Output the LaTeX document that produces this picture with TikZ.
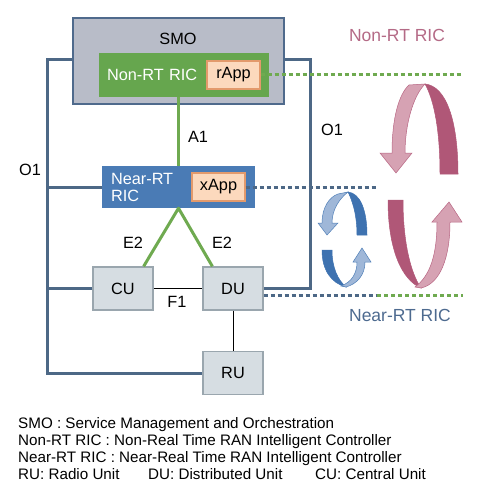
\documentclass[tikz,border=0pt]{standalone}
\usepackage{fontspec}
\setmainfont{Liberation Sans}
\usepackage{xcolor}
\usepackage{tikz}

\definecolor{smofill}{HTML}{B8BCC8}
\definecolor{smoedge}{HTML}{4F6A8C}
\definecolor{o1blue}{HTML}{4D6886}
\definecolor{linkgreen}{HTML}{6FAA50}
\definecolor{nonrtgreen}{HTML}{66A64E}
\definecolor{nearblue}{HTML}{4A7BB5}
\definecolor{appfill}{HTML}{FCD9BD}
\definecolor{appedge}{HTML}{E39A6C}
\definecolor{unitfill}{HTML}{D6DDE2}
\definecolor{unitedge}{HTML}{9AA6AE}
\definecolor{loopred}{HTML}{B46A86}
\definecolor{looptext}{HTML}{4D6A8F}
\definecolor{pinkdark}{HTML}{B05777}
\definecolor{pinklight}{HTML}{D6A2B3}
\definecolor{bluedark}{HTML}{3E72B0}
\definecolor{bluelight}{HTML}{9FB7D8}

\begin{document}
\begin{tikzpicture}[x=1pt,y=-1pt,font=\fontsize{16.3}{17}\selectfont,
    o1/.style={draw=o1blue, line width=3pt},
    link/.style={draw=linkgreen, line width=3pt, line join=round},
    unit/.style={draw=unitedge, fill=unitfill, line width=1.2pt, minimum width=60pt, minimum height=43pt},
    app/.style={draw=appedge, fill=appfill, line width=1.2pt, minimum width=53pt, minimum height=28pt, inner sep=0pt},
    loopdot/.style={line width=3pt, dash pattern=on 4pt off 3pt},
    ribbon/.style={line width=0.5pt}]
  \useasboundingbox (0,0) rectangle (500,500);

  \node[draw=smoedge, fill=smofill, line width=2.2pt, minimum width=211pt, minimum height=86pt] (smo) at (178.5,61) {};
  \node (smolabel) at (178,39) {SMO};
  \node[fill=nonrtgreen, text=white, minimum width=170pt, minimum height=44pt, text width=154pt, inner xsep=8pt, align=left] (nonrt) at (184,75) {Non-RT RIC};
  \node[app] (rapp) at (233.5,75) {rApp};

  \node[fill=nearblue, text=white, minimum width=153pt, minimum height=42pt, text width=135pt, inner xsep=9pt, align=left] (nearrt) at (178.5,187) {Near-RT\\RIC};
  \node[app] (xapp) at (218.5,187) {xApp};

  \node[unit] (cu) at (123,288.5) {CU};
  \node[unit] (du) at (233,288.5) {DU};
  \node[unit] (ru) at (233,373) {RU};

  \coordinate (o1west) at (47,60);
  \coordinate (o1east) at (310,60);
  \draw[o1] (smo.west |- o1west) -- (o1west) |- (ru.west);
  \draw[o1] (nearrt.west) -- (nearrt.west -| o1west);
  \draw[o1] (cu.west) -- (cu.west -| o1west);
  \draw[o1] (smo.east |- o1east) -- (o1east) |- (du.east);

  \draw[link] (nearrt.north) -- (nearrt.north |- nonrt.south);
  \draw[link] (cu.47) -- (nearrt.south) -- (du.133);
  \draw[line width=1pt] (cu.east) -- (du.west);
  \draw[line width=1pt] (du.south) -- (ru.north);

  \node (a1) at (198,137) {A1};
  \node (e2cu) at (133,243) {E2};
  \node (e2du) at (222,243) {E2};
  \node (f1) at (177,302) {F1};
  \node (o1left) at (30,170) {O1};
  \node (o1right) at (332,130) {O1};

  \coordinate (nonrtend) at (463,75);
  \coordinate (nearend) at (378,187);
  \coordinate (looppt) at (377,295);
  \draw[loopdot, draw=linkgreen] (rapp.east) -- (nonrtend);
  \draw[loopdot, draw=o1blue] (xapp.east) -- (nearend);
  \draw[loopdot, draw=o1blue] (du.east |- looppt) -- (looppt);
  \draw[loopdot, draw=linkgreen] (looppt) -- (looppt -| nonrtend);

  \node[text=loopred, font=\fontsize{17.5}{18}\selectfont] (nonrtloop) at (397,35) {Non-RT RIC};
  \node[text=looptext, font=\fontsize{17.5}{18}\selectfont] (nearloop) at (400,315) {Near-RT RIC};

  \filldraw[ribbon, draw=pinkdark, fill=pinkdark] (425,84) .. controls (446,86) and (458,120) .. (458,174) -- (440,174) .. controls (440,130) and (434,100) .. (425,84) -- cycle;
  \filldraw[ribbon, draw=pinkdark!80!pinklight, fill=pinklight] (409,85) -- (425,84) .. controls (413,96) and (405,125) .. (405,153) -- (412,153) -- (396,173) -- (380,153) -- (392,153) .. controls (392,118) and (399,94) .. (409,85) -- cycle;
  \filldraw[ribbon, draw=pinkdark, fill=pinkdark] (388,200) -- (403,200) .. controls (403,240) and (410,272) .. (421,288) .. controls (402,280) and (388,250) .. (388,200) -- cycle;
  \filldraw[ribbon, draw=pinkdark!80!pinklight, fill=pinklight] (421,288) .. controls (440,284) and (450,258) .. (450,222) -- (462,222) -- (449,202) -- (432,222) -- (437,222) .. controls (437,255) and (430,276) .. (415,287) -- cycle;

  \filldraw[ribbon, draw=bluedark, fill=bluedark] (348,192) .. controls (360,193) and (367,210) .. (367,235) -- (357,235) .. controls (357,214) and (352,200) .. (348,192) -- cycle;
  \filldraw[ribbon, draw=bluedark!80!bluelight, fill=bluelight] (338,194) -- (348,192) .. controls (339,199) and (332,210) .. (332,223) -- (338,223) -- (327,235) -- (318,223) -- (322,223) .. controls (322,208) and (329,197) .. (338,194) -- cycle;
  \filldraw[ribbon, draw=bluedark, fill=bluedark] (322,250) -- (332,250) .. controls (332,268) and (338,280) .. (346,287) .. controls (331,283) and (322,270) .. (322,250) -- cycle;
  \filldraw[ribbon, draw=bluedark!80!bluelight, fill=bluelight] (346,287) .. controls (357,284) and (365,275) .. (365,262) -- (371,262) -- (362,248) -- (353,262) -- (357,262) .. controls (357,273) and (352,282) .. (341,286) -- cycle;

  \begin{scope}[font=\fontsize{15.2}{17}\selectfont]
    \foreach \y/\txt [count=\i] in {428/{SMO : Service Management and Orchestration},
        445/{Non-RT RIC : Non-Real Time RAN Intelligent Controller},
        462/{Near-RT RIC : Near-Real Time RAN Intelligent Controller},
        479/{RU: Radio Unit}}{
      \node[anchor=base west, inner sep=0pt] (legend\i) at (18,\y) {\txt};
    }
    \node[anchor=base west, inner sep=0pt] (legenddu) at (148,479) {DU: Distributed Unit};
    \node[anchor=base west, inner sep=0pt] (legendcu) at (315,479) {CU: Central Unit};
  \end{scope}
\end{tikzpicture}
\end{document}
